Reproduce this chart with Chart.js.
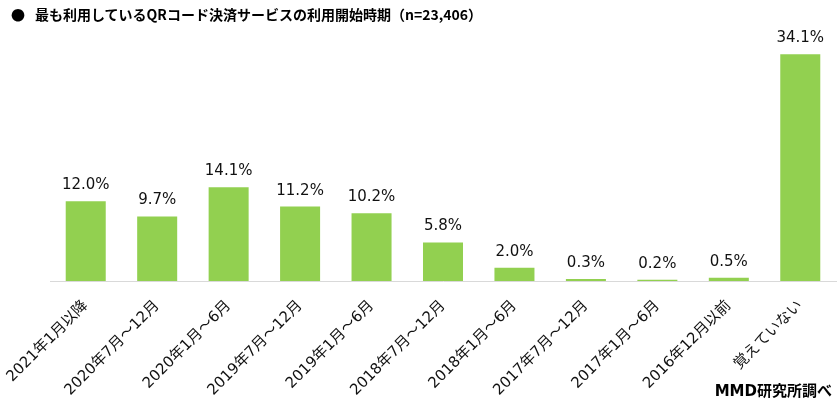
<!DOCTYPE html>
<html>
<head>
<meta charset="utf-8">
<script src="https://cdn.jsdelivr.net/npm/chart.js@4/dist/chart.umd.min.js"></script>
<style>
  html, body { margin: 0; padding: 0; background: #fff; }
  #wrap { position: relative; width: 837px; height: 408px; overflow: hidden; }
  #c { position: absolute; left: 0; top: 0; }
  .title { position: absolute; left: 11px; top: 4px; font: bold 14px "Noto Sans CJK JP", "DejaVu Sans", sans-serif; color: #000; white-space: nowrap; }
  .title .dot { display: inline-block; width: 24px; }
  .src { position: absolute; right: 5px; top: 379px; font: bold 15px "DejaVu Sans", "Noto Sans CJK JP", sans-serif; color: #000; white-space: nowrap; }
</style>
</head>
<body>
<div id="wrap">
  <canvas id="c" width="837" height="408"></canvas>
  <div class="title"><span class="dot">●</span>最も利用しているQRコード決済サービスの利用開始時期（n=23,406）</div>
  <div class="src">MMD研究所調べ</div>
</div>
<script>
const categories = ["2021年1月以降", "2020年7月～12月", "2020年1月～6月", "2019年7月～12月", "2019年1月～6月", "2018年7月～12月", "2018年1月～6月", "2017年7月～12月", "2017年1月～6月", "2016年12月以前", "覚えていない"];
const values = [12.0, 9.7, 14.1, 11.2, 10.2, 5.8, 2.0, 0.3, 0.2, 0.5, 34.1];

const FONT = '"DejaVu Sans", "Noto Sans CJK JP", sans-serif';

const valueLabels = {
  id: 'valueLabels',
  afterDatasetsDraw(chart) {
    const ctx = chart.ctx;
    const meta = chart.getDatasetMeta(0);
    ctx.save();
    ctx.font = '15px ' + FONT;
    ctx.fillStyle = '#111';
    ctx.textAlign = 'center';
    ctx.textBaseline = 'alphabetic';
    meta.data.forEach((bar, i) => {
      ctx.fillText(values[i].toFixed(1) + '%', bar.x, bar.y - 12);
    });
    ctx.restore();
  }
};

new Chart(document.getElementById('c'), {
  type: 'bar',
  data: {
    labels: categories,
    datasets: [{
      data: values,
      backgroundColor: '#92D050',
      borderWidth: 0,
      categoryPercentage: 1.0,
      barPercentage: 0.56
    }]
  },
  options: {
    responsive: false,
    animation: false,
    devicePixelRatio: 1,
    layout: { padding: { left: 50, right: 1, top: 15, bottom: 0 } },
    plugins: { legend: { display: false }, tooltip: { enabled: false }, title: { display: false } },
    scales: {
      y: { display: false, min: 0, max: 40 },
      x: {
        grid: { display: false, drawTicks: false },
        border: { display: true, color: '#d9d9d9', width: 1 },
        ticks: {
          autoSkip: false,
          maxRotation: 45,
          minRotation: 45,
          padding: 16,
          color: '#111',
          font: { family: FONT, size: 15 }
        },
        afterFit(scale) { scale.height = 127; scale.paddingLeft = 0; scale.paddingRight = 0; }
      }
    }
  },
  plugins: [valueLabels]
});
</script>
</body>
</html>
